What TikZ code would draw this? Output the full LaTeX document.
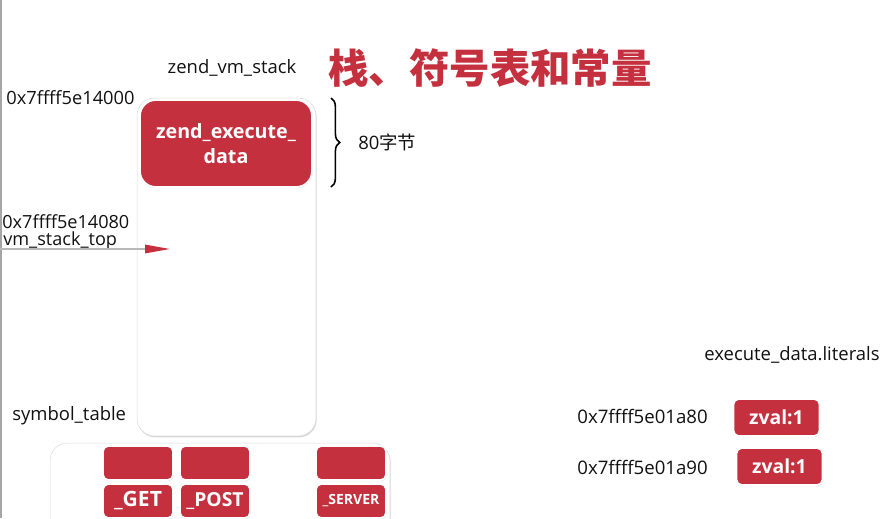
\documentclass[tikz,border=0pt]{standalone}
\usepackage{fontspec}
\setmainfont{Open Sans}
\newfontfamily\cjkfont{Noto Sans CJK SC}
\definecolor{zRed}{HTML}{C4303E}
\definecolor{zInk}{HTML}{111111}
\definecolor{zLine}{HTML}{B8B8B8}
\usetikzlibrary{arrows.meta,shadows,decorations.pathreplacing}

\begin{document}
\begin{tikzpicture}[
  x=0.02cm,y=-0.02cm,
  lbl/.style={font=\fontsize{10.5pt}{12pt}\selectfont,text=zInk,inner sep=0pt},
  addr/.style={lbl,anchor=west,font=\fontsize{10.4pt}{12pt}\selectfont},
  panel/.style={fill=white,draw=zLine!50,line width=0.3pt,rounded corners=10pt,
                drop shadow={shadow xshift=0.4pt,shadow yshift=-0.8pt,opacity=0.3,fill=gray}},
  cell/.style={fill=zRed,draw=white,line width=1pt,rounded corners=3pt,text=white,
               font=\bfseries\fontsize{12pt}{14pt}\selectfont,inner sep=0pt,
               minimum width=1.4cm,minimum height=0.68cm,
               drop shadow={shadow xshift=0.3pt,shadow yshift=-0.6pt,opacity=0.3,fill=gray}},
  zval/.style={cell,minimum width=1.72cm,minimum height=0.74cm,font=\bfseries\fontsize{11pt}{13pt}\selectfont}
]
\useasboundingbox[fill=white] (0,0) rectangle (889,518);
\draw[gray!70,line width=0.6pt] (1,0) -- (1,518);

\node[font=\cjkfont\bfseries\fontsize{23pt}{26pt}\selectfont,text=zRed,inner sep=0pt] (title) at (490,68) {栈、符号表和常量};
\node[lbl] (stacklbl) at (232,68) {zend\_vm\_stack};

% stack
\node[panel,minimum width=3.58cm,minimum height=6.76cm] (stack) at (226.5,267) {};
\node[cell,rounded corners=9pt,minimum width=3.44cm,minimum height=1.74cm,
      font=\bfseries\fontsize{11.2pt}{14pt}\selectfont,align=center] (exec) at (226,143.5)
  {zend\_execute\_\\data};
\node[addr] (addr0) at (6,98) {0x7ffff5e14000};

\draw[decorate,decoration={brace,amplitude=5pt},line width=0.9pt] (331,98) -- (331,187)
  coordinate[midway] (bracemid);
\node[lbl,anchor=west] (size) at (358,142) {80\cjkfont 字节};

\node[addr,font=\fontsize{10.3pt}{10pt}\selectfont] (addr1) at (2,222) {0x7ffff5e14080};
\node[addr,font=\fontsize{10.3pt}{10pt}\selectfont] (toplbl) at (3,241) {vm\_stack\_top};
\coordinate (topsrc) at (0,249);
\coordinate (toptgt) at (170,249);
\draw[zLine,line width=0.8pt,-{Triangle[length=0.5cm,width=0.17cm,color=zRed,fill=zRed]}] (topsrc) -- (toptgt);

% symbol table
\node[lbl,anchor=west] (symlbl) at (12,416) {symbol\_table};
\node[panel,minimum width=6.8cm,minimum height=2cm] (symtab) at (220,493) {};
\node[cell] (get0) at (138,463) {};
\node[cell] (post0) at (215,463) {};
\node[cell] (srv0) at (351,463) {};
\node[cell] (get) at (138,501) {\_GET};
\node[cell,font=\bfseries\fontsize{11pt}{13pt}\selectfont] (post) at (215,501) {\_POST};
\node[cell,font=\bfseries\fontsize{8pt}{10pt}\selectfont] (srv) at (351,501) {\_SERVER};

% literals
\node[lbl,anchor=east] (litlbl) at (880,355) {execute\_data.literals};
\node[addr,font=\fontsize{10.6pt}{12pt}\selectfont] (addr2) at (577,416) {0x7ffff5e01a80};
\node[addr,font=\fontsize{10.6pt}{12pt}\selectfont] (addr3) at (577,467) {0x7ffff5e01a90};
\node[zval] (lit1) at (776.5,417.5) {zval:1};
\node[zval] (lit2) at (779.5,466.5) {zval:1};
\end{tikzpicture}
\end{document}
